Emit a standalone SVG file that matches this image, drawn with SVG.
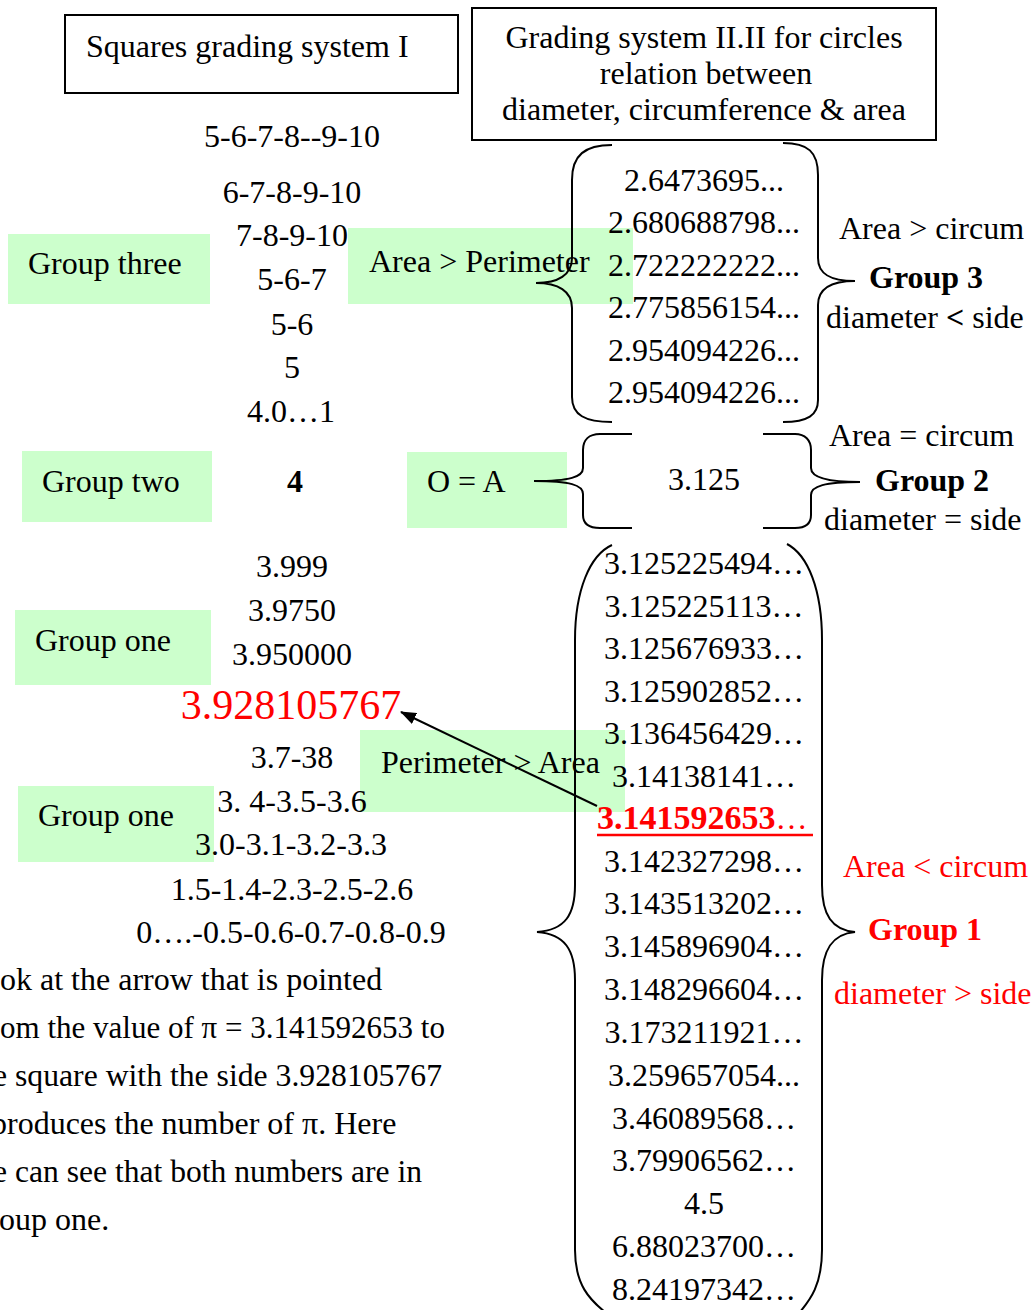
<svg xmlns="http://www.w3.org/2000/svg" width="1034" height="1310" viewBox="0 0 1034 1310">
<defs>
<style>
text{font-family:"Liberation Serif","Times New Roman",serif;font-size:32px;fill:#000}
.m{text-anchor:middle}
.b{font-weight:bold}
.r{fill:#ff0000}
.g{fill:#ccffcc}
.box{fill:#fff;stroke:#000;stroke-width:2}
.br{fill:none;stroke:#000;stroke-width:2}
</style>
<marker id="ah2" viewBox="0 0 16 12" refX="15" refY="6" markerWidth="16" markerHeight="12" markerUnits="userSpaceOnUse" orient="auto">
<path d="M0,0 L16,6 L0,12 z" fill="#000"/>
</marker>
</defs>
<rect width="1034" height="1310" fill="#fff"/>

<g id="title-squares">
<rect class="box" x="65" y="15" width="393" height="78"/>
<text x="86" y="57">Squares grading system I</text>
</g>
<g id="title-circles">
<rect class="box" x="472" y="8" width="464" height="132"/>
<text class="m" x="704" y="48">Grading system II.II for circles</text>
<text class="m" x="706" y="84">relation between</text>
<text class="m" x="704" y="120">diameter, circumference &amp; area</text>
</g>

<g id="green-labels">
<g id="group-three"><rect class="g" x="8" y="234" width="202" height="70"/><text x="28" y="274">Group three</text></g>
<g id="area-gt-perimeter"><rect class="g" x="348" y="228" width="285" height="76"/><text x="369" y="272">Area &gt; Perimeter</text></g>
<g id="group-two"><rect class="g" x="22" y="451" width="190" height="71"/><text x="42" y="492">Group two</text></g>
<g id="o-eq-a"><rect class="g" x="407" y="452" width="160" height="76"/><text x="427" y="492">O = A</text></g>
<g id="group-one-a"><rect class="g" x="15" y="610" width="196" height="75"/><text x="35" y="651">Group one</text></g>
<g id="perimeter-gt-area"><rect class="g" x="360" y="730" width="265" height="82"/><text x="381" y="773">Perimeter &gt; Area</text></g>
<g id="group-one-b"><rect class="g" x="18" y="786" width="196" height="76"/><text x="38" y="826">Group one</text></g>
</g>

<g id="squares-list">
<text class="m" x="292" y="147">5-6-7-8--9-10</text>
<text class="m" x="292" y="203">6-7-8-9-10</text>
<text class="m" x="292" y="246">7-8-9-10</text>
<text class="m" x="292" y="290">5-6-7</text>
<text class="m" x="292" y="335">5-6</text>
<text class="m" x="292" y="378">5</text>
<text class="m" x="291" y="422">4.0…1</text>
<text class="m b" x="295" y="492">4</text>
<text class="m" x="292" y="577">3.999</text>
<text class="m" x="292" y="621">3.9750</text>
<text class="m" x="292" y="665">3.950000</text>
<text class="m r" x="291" y="719" style="font-size:42px">3.928105767</text>
<text class="m" x="292" y="768">3.7-38</text>
<text class="m" x="292" y="812">3. 4-3.5-3.6</text>
<text class="m" x="291" y="855">3.0-3.1-3.2-3.3</text>
<text class="m" x="292" y="900">1.5-1.4-2.3-2.5-2.6</text>
<text class="m" x="291" y="943">0….-0.5-0.6-0.7-0.8-0.9</text>
</g>

<g id="paragraph">
<text x="0" y="990">ok at the arrow that is pointed</text>
<text x="0" y="1038" textLength="445" lengthAdjust="spacingAndGlyphs">om the value of π = 3.141592653 to</text>
<text x="-7" y="1086" textLength="449" lengthAdjust="spacingAndGlyphs">e square with the side 3.928105767</text>
<text x="-9" y="1134">produces the number of π. Here</text>
<text x="-7" y="1182" textLength="429" lengthAdjust="spacingAndGlyphs">e can see that both numbers are in</text>
<text x="-1" y="1230">oup one.</text>
</g>

<g id="group3-values">
<text class="m" x="704" y="191">2.6473695...</text>
<text class="m" x="704" y="233">2.680688798...</text>
<text class="m" x="704" y="276">2.722222222...</text>
<text class="m" x="704" y="318">2.775856154...</text>
<text class="m" x="704" y="361">2.954094226...</text>
<text class="m" x="704" y="403">2.954094226...</text>
</g>
<g id="group2-values">
<text class="m" x="704" y="490">3.125</text>
</g>
<g id="group1-values">
<text class="m" x="704" y="574">3.125225494…</text>
<text class="m" x="704" y="617">3.125225113…</text>
<text class="m" x="704" y="659">3.125676933…</text>
<text class="m" x="704" y="702">3.125902852…</text>
<text class="m" x="704" y="744">3.136456429…</text>
<text class="m" x="704" y="787">3.14138141…</text>
<text x="597" y="829" class="r"><tspan class="b" style="font-size:34px">3.141592653</tspan>…</text>
<line x1="597" y1="835" x2="813" y2="835" stroke="#ff0000" stroke-width="2.5"/>
<text class="m" x="704" y="872">3.142327298…</text>
<text class="m" x="704" y="914">3.143513202…</text>
<text class="m" x="704" y="957">3.145896904…</text>
<text class="m" x="704" y="1000">3.148296604…</text>
<text class="m" x="704" y="1043">3.173211921…</text>
<text class="m" x="704" y="1086">3.259657054...</text>
<text class="m" x="704" y="1129">3.46089568…</text>
<text class="m" x="704" y="1171">3.79906562…</text>
<text class="m" x="704" y="1214">4.5</text>
<text class="m" x="704" y="1257">6.88023700…</text>
<text class="m" x="704" y="1300">8.24197342…</text>
</g>

<g id="group-labels">
<text x="839" y="239">Area &gt; circum</text>
<text class="b" x="869" y="288">Group 3</text>
<text x="826" y="328">diameter <tspan class="b">&lt;</tspan> side</text>
<text x="829" y="446">Area = circum</text>
<text class="b" x="875" y="491">Group 2</text>
<text x="824" y="530">diameter = side</text>
<text class="r" x="843" y="877">Area &lt; circum</text>
<text class="r b" x="868" y="940">Group 1</text>
<text class="r" x="834" y="1004">diameter &gt; side</text>
</g>

<g id="connectors">
<path class="br" d="M612,145 C585,145 572,155 572,180 L572,258 C572,275 558,283 536,283 C558,283 572,291 572,308 L572,397 C572,415 585,422 612,422"/>
<path class="br" d="M783,143 C808,143 818,152 818,175 L818,258 C818,274 830,281 855,281 C830,281 818,289 818,305 L818,400 C818,415 808,422 783,422"/>
<path class="br" d="M632,434 L600,434 C589,434 583,440 583,450 L583,468 C583,477 570,481 534,481 C570,481 583,485 583,494 L583,515 C583,524 589,528 600,528 L632,528"/>
<path class="br" d="M763,434 L795,434 C805,434 811,440 811,450 L811,468 C811,477 825,482 860,482 C825,482 811,486 811,495 L811,515 C811,524 805,528 795,528 L763,528"/>
<path class="br" d="M612,545 C590,555 575,590 575,640 L575,885 C575,915 565,930 537,932 C565,934 575,950 575,980 L575,1250 C575,1285 590,1300 605,1312"/>
<path class="br" d="M787,544 C808,555 822,590 822,640 L822,885 C822,915 832,930 855,932 C832,934 822,950 822,980 L822,1250 C822,1285 810,1300 800,1312"/>
<line x1="597" y1="806" x2="401" y2="712" stroke="#000" stroke-width="2" marker-end="url(#ah2)"/>
</g>
</svg>
